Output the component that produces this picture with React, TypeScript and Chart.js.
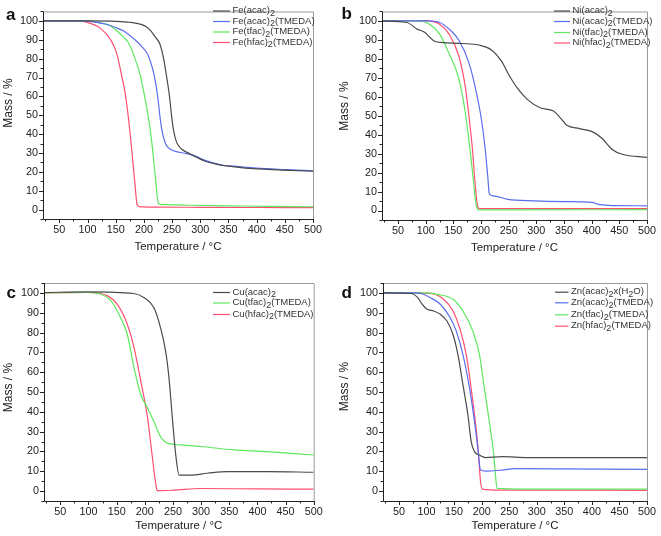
import { useEffect, useRef } from 'react';
import { Chart, registerables } from 'chart.js';
Chart.register(...registerables);

// ---------- data ----------
const X_TICKS = [50, 100, 150, 200, 250, 300, 350, 400, 450, 500];
const X_MINOR = [25, 75, 125, 175, 225, 275, 325, 375, 425, 475];
const Y_TICKS = [0, 10, 20, 30, 40, 50, 60, 70, 80, 90, 100];
const Y_MINOR = [-5, 5, 15, 25, 35, 45, 55, 65, 75, 85, 95, 105];

// panel a
const feAcacT = [21, 100, 150, 175, 195, 205, 213, 220, 228, 235, 240, 245, 249, 252, 256, 260, 268, 280, 295, 310, 330, 350, 380, 420, 460, 500];
const feAcacM = [100, 100, 99.8, 99.3, 98.2, 96.8, 94.5, 91.5, 88, 80, 71, 61, 50, 43, 37.5, 34.5, 31.8, 29.8, 27.5, 25.5, 24, 23, 22, 21.3, 20.8, 20.3];
const feAcacTmT = [21, 90, 110, 130, 150, 165, 184, 196, 207, 216, 222, 226, 229, 232, 236, 240, 248, 258, 270, 285, 295, 305, 320, 340, 360, 400, 450, 500];
const feAcacTmM = [100, 100, 99.5, 98.5, 96.5, 94.5, 90, 86.5, 82, 74, 65, 56, 48, 42, 37, 34, 31.8, 30.7, 30, 29, 28, 26.5, 25, 23.5, 23, 22, 21.2, 20.5];
const feTfacT = [21, 100, 120, 140, 155, 165, 172, 182, 193, 200, 205, 210, 215, 219, 222, 225, 228, 240, 280, 350, 420, 500];
const feTfacM = [100, 100, 99, 97.5, 94, 91, 88.7, 82, 71.8, 62, 54, 45, 33, 21, 12, 4, 2.8, 2.6, 2.3, 2, 1.7, 1.5];
const feHfacT = [21, 80, 100, 122, 140, 151, 160, 166, 172, 178, 184, 188, 192, 220, 300, 400, 500];
const feHfacM = [100, 100, 99.2, 96.3, 90.4, 83.6, 71.8, 63, 50, 33, 14, 2.5, 1.6, 1.3, 1.2, 1.1, 1.0];

// panel b
const niAcacT = [21, 66, 84, 98, 107, 116, 131, 166, 196, 219, 237, 251, 266, 284, 307, 331, 343, 355, 378, 402, 419, 437, 455, 500];
const niAcacM = [100, 99.2, 95.8, 94, 91.5, 89.3, 88.6, 88.1, 87.3, 84.7, 78.8, 71.2, 64.4, 58.5, 54.2, 52.5, 49, 45, 43.2, 41.5, 38, 32.2, 29.7, 28];
const niAcacTmT = [21, 101, 125, 142, 160, 178, 190, 201, 207, 212, 215, 225, 248, 296, 350, 400, 413, 437, 500];
const niAcacTmM = [100, 100, 99.2, 95.8, 89.8, 78, 64.4, 47.5, 33.9, 18.6, 8.8, 7.6, 5.9, 5.1, 4.7, 4.3, 3.2, 2.6, 2.5];
const niTfacT = [21, 90, 107, 125, 142, 160, 172, 184, 192, 197, 250, 500];
const niTfacM = [100, 100, 98.3, 93.2, 83, 69.5, 50.8, 22, 2, 0.3, 0.3, 0.5];
const niHfacT = [21, 101, 125, 142, 160, 172, 180, 184, 190, 194, 198, 300, 500];
const niHfacM = [100, 100.2, 98.3, 93.2, 81.4, 64.4, 45, 34, 11.9, 2, 1, 1, 1];

// panel c
const cuAcacT = [21, 100, 180, 199, 216, 228, 237, 243, 249, 255, 261, 281, 311, 346, 417, 500];
const cuAcacM = [100.2, 100.5, 99.7, 97.6, 92.6, 82.4, 70.6, 57, 36.8, 18.2, 8.1, 8.1, 9, 9.8, 9.8, 9.5];
const cuTfacT = [21, 100, 122, 140, 157, 169, 181, 193, 205, 216, 228, 240, 264, 299, 358, 417, 500];
const cuTfacM = [100, 100.2, 99.3, 96, 87.5, 79, 62, 48.6, 41.9, 35.1, 27.5, 24.2, 23.3, 22.5, 20.8, 19.9, 18.2];
const cuHfacT = [21, 100, 134, 151, 169, 181, 193, 205, 213, 219, 222, 252, 299, 400, 500];
const cuHfacM = [100, 100.2, 98.5, 94.3, 84.1, 72.3, 55.4, 36.8, 18.2, 4.7, 0.2, 0.5, 1.3, 1.1, 1];

// panel d
const znAcacT = [21, 72, 84, 92, 101, 113, 125, 137, 148, 157, 166, 175, 181, 187, 196, 207, 237, 284, 500];
const znAcacM = [100, 99.7, 97.6, 94.3, 91.7, 90.9, 89.2, 85.8, 79, 68.9, 53.7, 38.5, 25, 19.9, 18.2, 16.9, 17.4, 16.9, 16.9];
const znAcacTmT = [21, 80, 90, 107, 125, 143, 154, 166, 178, 187, 193, 198, 207, 237, 260, 500];
const znAcacTmM = [100, 100, 99.7, 97.6, 94.3, 87.5, 80.7, 68.9, 52, 35.1, 21.6, 10.6, 10.1, 10.6, 11.3, 11];
const znTfacT = [21, 100, 119, 148, 166, 184, 196, 204, 213, 222, 225, 228, 284, 500];
const znTfacM = [100, 100, 99.3, 96.8, 90.9, 80.7, 68.9, 53.7, 36.8, 18.2, 8.1, 1.4, 1, 1];
const znHfacT = [21, 107, 131, 148, 160, 172, 184, 193, 198, 201, 237, 500];
const znHfacM = [100, 99.8, 96.8, 90.9, 82.4, 68.9, 45.3, 23.3, 4.7, 1, 0.5, 0.4];

// ---------- styles ----------
const BLACK = '#4a4a4a';
const BLUE = '#5a6cf0';
const GREEN = '#5ee85e';
const RED = '#ff4f70';
const FONT = '"Liberation Sans", Arial, sans-serif';

type Series = { label: string; t: number[]; m: number[]; color: string };
type Panel = {
  left: number; top: number; w: number; h: number;
  area: { l: number; r: number; t: number; b: number };
  letter: string; letterX: number; letterY: number;
  yTitleX: number; yTitleY: number; xTitleY: number;
  leg: { x0: number; x1: number; tx: number; ys: number[] };
  series: Series[];
};

const PANELS: Panel[] = [
  {
    left: 0, top: 0, w: 330, h: 268,
    area: { l: 43, r: 313, t: 2, b: 219 },
    letter: 'a', letterX: 6, letterY: 19.5,
    yTitleX: 8.5, yTitleY: 103, xTitleY: 247,
    leg: { x0: 213, x1: 230, tx: 232.5, ys: [10.5, 21, 31.5, 42] },
    series: [
      { label: 'Fe(acac)_2', t: feAcacT, m: feAcacM, color: BLACK },
      { label: 'Fe(acac)_2(TMEDA)', t: feAcacTmT, m: feAcacTmM, color: BLUE },
      { label: 'Fe(tfac)_2(TMEDA)', t: feTfacT, m: feTfacM, color: GREEN },
      { label: 'Fe(hfac)_2(TMEDA)', t: feHfacT, m: feHfacM, color: RED },
    ],
  },
  {
    left: 330, top: 0, w: 331, h: 268,
    area: { l: 52, r: 322, t: 3.5, b: 220 },
    letter: 'b', letterX: 11.5, letterY: 18.5,
    yTitleX: 14.5, yTitleY: 106, xTitleY: 248,
    leg: { x0: 224, x1: 240, tx: 242.5, ys: [10.5, 21, 32, 42.5] },
    series: [
      { label: 'Ni(acac)_2', t: niAcacT, m: niAcacM, color: BLACK },
      { label: 'Ni(acac)_2(TMEDA)', t: niAcacTmT, m: niAcacTmM, color: BLUE },
      { label: 'Ni(tfac)_2(TMEDA)', t: niTfacT, m: niTfacM, color: GREEN },
      { label: 'Ni(hfac)_2(TMEDA)', t: niHfacT, m: niHfacM, color: RED },
    ],
  },
  {
    left: 0, top: 268, w: 330, h: 268,
    area: { l: 44, r: 313.7, t: 15, b: 233 },
    letter: 'c', letterX: 6.5, letterY: 30,
    yTitleX: 9, yTitleY: 119.5, xTitleY: 258,
    leg: { x0: 213, x1: 230, tx: 232.5, ys: [24, 34.5, 46] },
    series: [
      { label: 'Cu(acac)_2', t: cuAcacT, m: cuAcacM, color: BLACK },
      { label: 'Cu(tfac)_2(TMEDA)', t: cuTfacT, m: cuTfacM, color: GREEN },
      { label: 'Cu(hfac)_2(TMEDA)', t: cuHfacT, m: cuHfacM, color: RED },
    ],
  },
  {
    left: 330, top: 268, w: 331, h: 268,
    area: { l: 53, r: 322, t: 15, b: 233 },
    letter: 'd', letterX: 11.5, letterY: 30,
    yTitleX: 15, yTitleY: 118.5, xTitleY: 258,
    leg: { x0: 225, x1: 238.5, tx: 241, ys: [23.7, 34.3, 46.3, 57.7] },
    series: [
      { label: 'Zn(acac)_2x(H_2O)', t: znAcacT, m: znAcacM, color: BLACK },
      { label: 'Zn(acac)_2(TMEDA)', t: znAcacTmT, m: znAcacTmM, color: BLUE },
      { label: 'Zn(tfac)_2(TMEDA)', t: znTfacT, m: znTfacM, color: GREEN },
      { label: 'Zn(hfac)_2(TMEDA)', t: znHfacT, m: znHfacM, color: RED },
    ],
  },
];

const X_AXIS_H = 30;

function drawRich(ctx: CanvasRenderingContext2D, text: string, x: number, y: number) {
  let cx = x;
  let i = 0;
  while (i < text.length) {
    if (text[i] === '_') {
      const ch = text[i + 1];
      ctx.font = `9px ${FONT}`;
      ctx.fillText(ch, cx, y + 3);
      cx += ctx.measureText(ch).width;
      i += 2;
    } else {
      let j = i;
      while (j < text.length && text[j] !== '_') j++;
      const s = text.slice(i, j);
      ctx.font = `9.5px ${FONT}`;
      ctx.fillText(s, cx, y);
      cx += ctx.measureText(s).width;
      i = j;
    }
  }
}

function makePlugin(p: Panel) {
  return {
    id: 'decor',
    afterDraw(chart: any) {
      const ctx: CanvasRenderingContext2D = chart.ctx;
      const { left, right, top, bottom } = chart.chartArea;
      const xs = chart.scales.x;
      const ys = chart.scales.y;
      ctx.save();
      // frame
      ctx.lineWidth = 1;
      ctx.strokeStyle = '#9a9a9a';
      ctx.beginPath();
      ctx.moveTo(left, top + 0.5);
      ctx.lineTo(right + 0.5, top + 0.5);
      ctx.lineTo(right + 0.5, bottom);
      ctx.stroke();
      ctx.strokeStyle = '#222';
      ctx.beginPath();
      ctx.moveTo(left + 0.5, top);
      ctx.lineTo(left + 0.5, bottom + 0.5);
      ctx.lineTo(right + 0.5, bottom + 0.5);
      ctx.stroke();
      // ticks
      ctx.beginPath();
      X_TICKS.forEach((v) => { const px = Math.round(xs.getPixelForValue(v)) + 0.5; ctx.moveTo(px, bottom); ctx.lineTo(px, bottom + 4); });
      X_MINOR.forEach((v) => { const px = Math.round(xs.getPixelForValue(v)) + 0.5; ctx.moveTo(px, bottom); ctx.lineTo(px, bottom + 2.5); });
      Y_TICKS.forEach((v) => { const py = Math.round(ys.getPixelForValue(v)) + 0.5; ctx.moveTo(left, py); ctx.lineTo(left - 4, py); });
      Y_MINOR.forEach((v) => { const py = Math.round(ys.getPixelForValue(v)) + 0.5; ctx.moveTo(left, py); ctx.lineTo(left - 2.5, py); });
      ctx.stroke();
      // letter
      ctx.fillStyle = '#111';
      ctx.font = `bold 17px ${FONT}`;
      ctx.textAlign = 'left';
      ctx.textBaseline = 'alphabetic';
      ctx.fillText(p.letter, p.letterX, p.letterY);
      // axis titles
      ctx.fillStyle = '#222';
      ctx.font = `11.5px ${FONT}`;
      ctx.textAlign = 'center';
      ctx.textBaseline = 'middle';
      ctx.fillText('Temperature / °C', (left + right) / 2, p.xTitleY);
      ctx.save();
      ctx.translate(p.yTitleX, p.yTitleY);
      ctx.rotate(-Math.PI / 2);
      ctx.font = `12px ${FONT}`;
      ctx.fillText('Mass / %', 0, 0);
      ctx.restore();
      // legend
      ctx.textAlign = 'left';
      ctx.textBaseline = 'middle';
      p.series.forEach((s, i) => {
        const y = p.leg.ys[i];
        ctx.strokeStyle = s.color;
        ctx.lineWidth = 1.2;
        ctx.beginPath();
        ctx.moveTo(p.leg.x0, y + 0.5);
        ctx.lineTo(p.leg.x1, y + 0.5);
        ctx.stroke();
        ctx.fillStyle = '#333';
        drawRich(ctx, s.label, p.leg.tx, y);
      });
      ctx.restore();
    },
  };
}

function PanelChart({ p }: { p: Panel }) {
  const ref = useRef<HTMLCanvasElement | null>(null);
  useEffect(() => {
    if (!ref.current) return;
    const chart = new Chart(ref.current, {
      type: 'line',
      data: {
        datasets: p.series.map((s) => ({
          label: s.label,
          data: s.t.map((t, i) => ({ x: t, y: s.m[i] })),
          borderColor: s.color,
          backgroundColor: s.color,
          borderWidth: 1.2,
          pointRadius: 0,
          cubicInterpolationMode: 'monotone' as const,
          fill: false,
        })),
      },
      options: {
        animation: false,
        responsive: false,
        devicePixelRatio: 1,
        layout: {
          padding: { left: 0, top: p.area.t, right: p.w - p.area.r, bottom: p.h - p.area.b - X_AXIS_H },
        },
        plugins: { legend: { display: false }, tooltip: { enabled: false } },
        scales: {
          x: {
            type: 'linear',
            min: 21,
            max: 500,
            grid: { display: false, drawTicks: false },
            border: { display: false },
            afterBuildTicks: (s: any) => { s.ticks = X_TICKS.map((v) => ({ value: v })); },
            afterFit: (s: any) => { s.height = X_AXIS_H; },
            ticks: { autoSkip: false, maxRotation: 0, padding: 5, color: '#222', font: { family: FONT, size: 10.8 } },
          },
          y: {
            type: 'linear',
            min: -5,
            max: 105,
            grid: { display: false, drawTicks: false },
            border: { display: false },
            afterBuildTicks: (s: any) => { s.ticks = Y_TICKS.map((v) => ({ value: v })); },
            afterFit: (s: any) => { s.width = p.area.l; },
            ticks: { autoSkip: false, padding: 5, color: '#222', font: { family: FONT, size: 10.8 } },
          },
        },
      },
      plugins: [makePlugin(p)],
    } as any);
    return () => chart.destroy();
  }, [p]);
  return (
    <canvas
      ref={ref}
      width={p.w}
      height={p.h}
      style={{ position: 'absolute', left: p.left, top: p.top, width: p.w, height: p.h }}
    />
  );
}

export default function App() {
  return (
    <div style={{ position: 'fixed', left: 0, top: 0, width: 661, height: 536, background: '#fff' }}>
      {PANELS.map((p, i) => (
        <PanelChart key={i} p={p} />
      ))}
    </div>
  );
}
